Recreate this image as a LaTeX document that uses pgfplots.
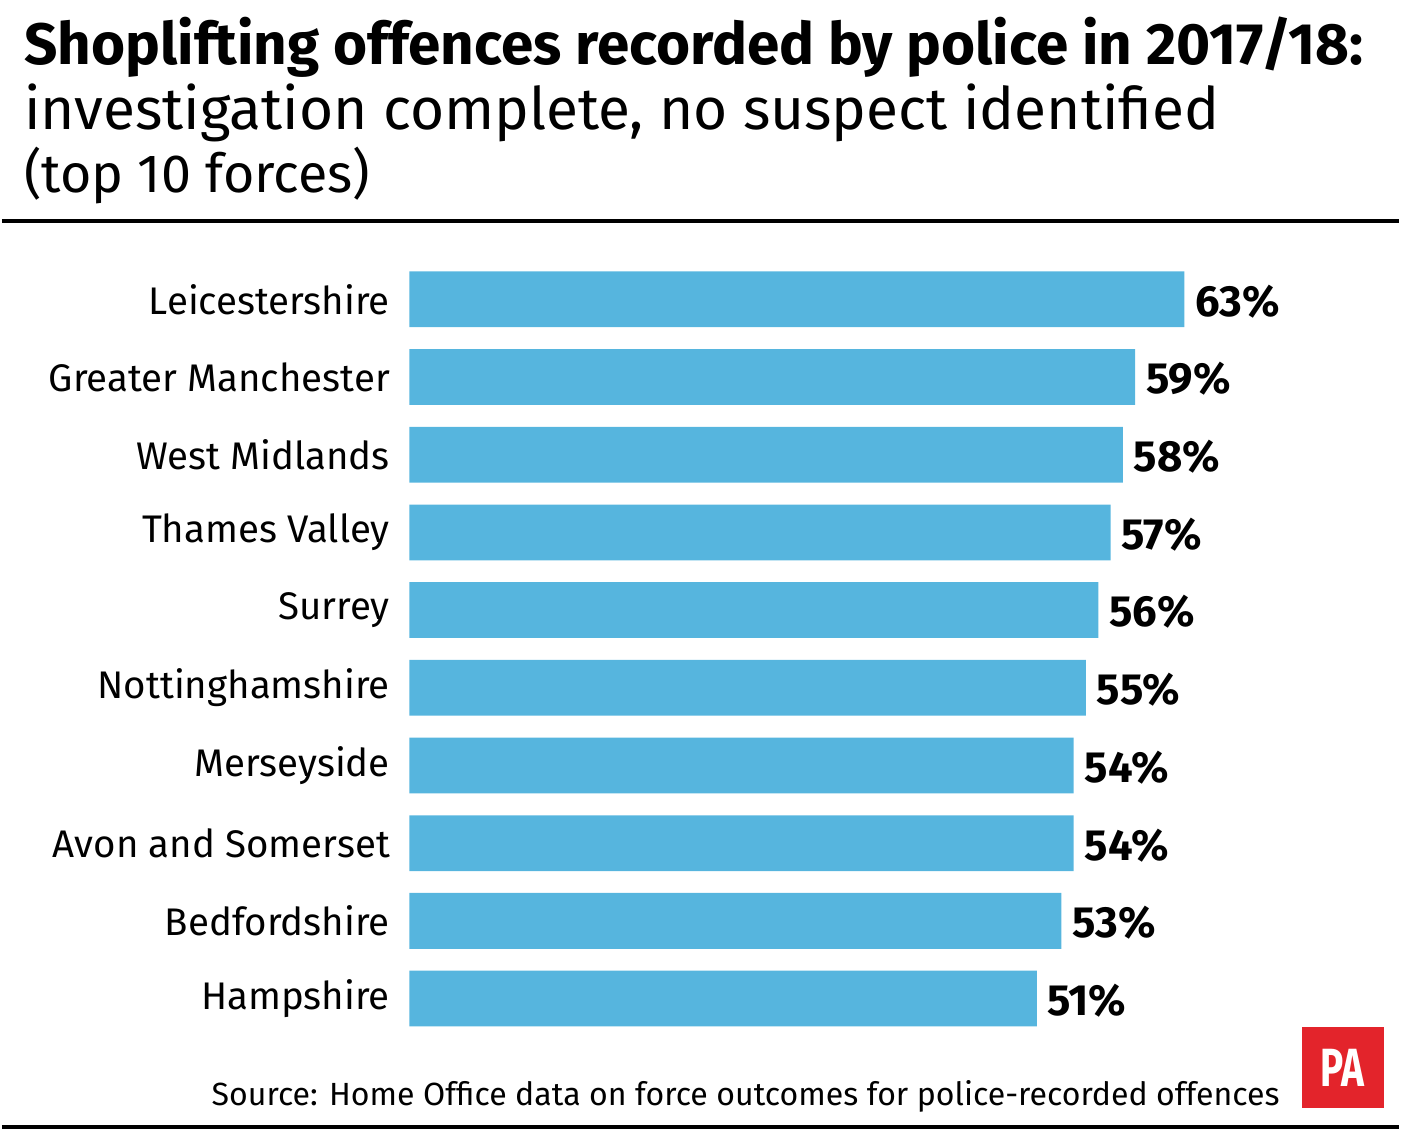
\documentclass[border=0pt]{standalone}
\usepackage{pgfplots}
\pgfplotsset{compat=1.18}
\usepackage{fontspec}
\setmainfont{Fira Sans}
\definecolor{barblue}{HTML}{56B5DE}
\definecolor{pared}{HTML}{E3242B}

\begin{document}
\begin{tikzpicture}[x=0.5pt,y=0.5pt]
% page frame in pixel units, y up from bottom
\path (0,0) rectangle (1402,1136);
% title block
\node[anchor=base west,inner sep=0pt,font=\fontsize{29.3}{34}\selectfont\bfseries] at (22,1136-65) {Shoplifting offences recorded by police in 2017/18:};
\node[anchor=base west,inner sep=0pt,font=\fontsize{29.4}{34}\selectfont] at (22,1136-130) {investigation complete, no suspect identified};
\node[anchor=base west,inner sep=0pt,font=\fontsize{27}{32}\selectfont] at (22,1136-193) {(top 10 forces)};
\draw[line width=1.75pt] (0,1136-222) -- (1402,1136-222);
\draw[line width=2pt] (0,1136-1131) -- (1402,1136-1131);
% source and logo
\node[anchor=base east,inner sep=0pt,font=\fontsize{16.1}{19}\selectfont] at (1283,1136-1110) {Source: Home Office data on force outcomes for police-recorded offences};
\fill[pared] (1305,1136-1112) rectangle (1387,1136-1031);
\node[text=white,font=\fontsize{27}{27}\selectfont\bfseries,xscale=0.72] at (1346,1136-1072) {PA};

\begin{axis}[
  at={(204.5pt,47.25pt)}, anchor=south west,
  scale only axis,
  width=494pt, height=390pt,
  xmin=0, xmax=80,
  ymin=-0.5, ymax=9.5,
  y dir=reverse,
  xbar, bar width=28pt,
  axis line style={draw=none},
  major tick style={draw=none},
  xtick=\empty,
  ytick={0,...,9},
  yticklabels={Leicestershire,Greater Manchester,West Midlands,Thames Valley,Surrey,Nottinghamshire,Merseyside,Avon and Somerset,Bedfordshire,Hampshire},
  yticklabel style={font=\fontsize{19.3}{23}\selectfont, xshift=-2pt},
  nodes near coords={\pgfmathprintnumber{\pgfplotspointmeta}\%},
  nodes near coords style={font=\fontsize{21.9}{26}\selectfont\bfseries, anchor=west, xshift=2pt, yshift=-1pt},
  point meta=x,
  /pgf/number format/assume math mode=true,
  clip=false,
]
\addplot[fill=barblue, draw=none] coordinates {
  (63,0) (59,1) (58,2) (57,3) (56,4) (55,5) (54,6) (54,7) (53,8) (51,9)
};
\end{axis}
\end{tikzpicture}
\end{document}
